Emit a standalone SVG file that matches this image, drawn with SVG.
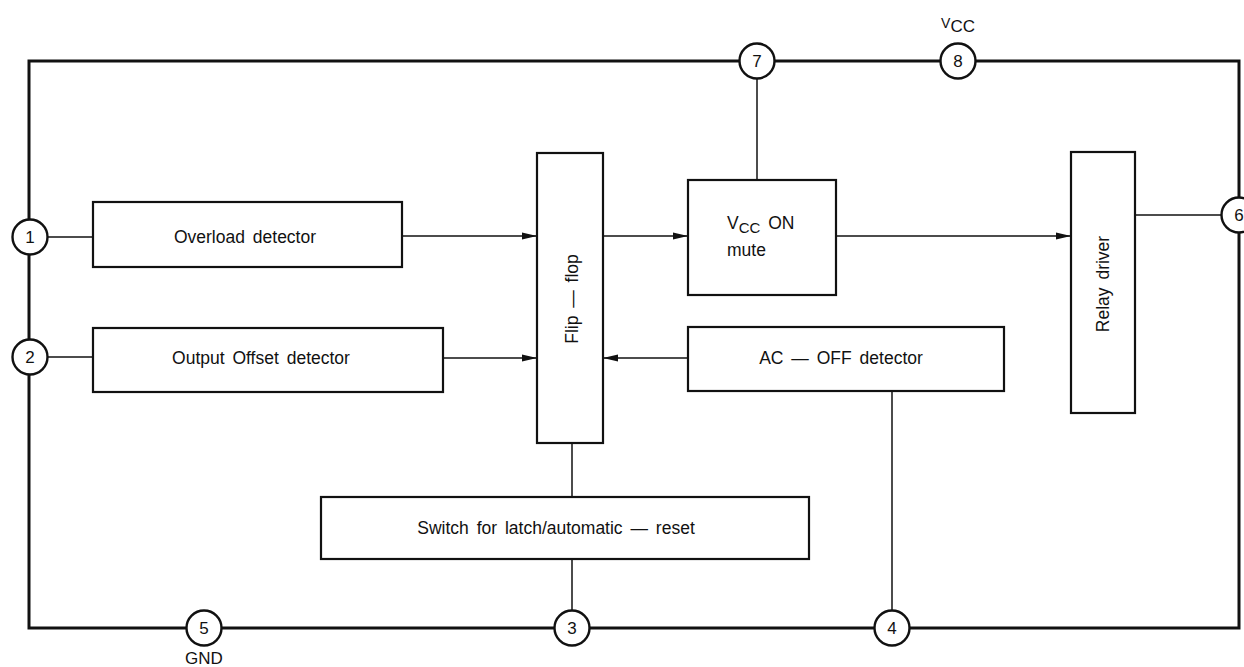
<svg xmlns="http://www.w3.org/2000/svg" width="1244" height="667" viewBox="0 0 1244 667">
<style>
.frame{fill:none;stroke:#111;stroke-width:3}
.box{fill:#fff;stroke:#111;stroke-width:2.2}
.pin{fill:#fff;stroke:#111;stroke-width:2.4}
.w{fill:none;stroke:#111;stroke-width:1.5}
.t{font-family:"Liberation Sans",Arial,sans-serif;font-size:17.5px;fill:#111;word-spacing:3px}
.pn{font-family:"Liberation Sans",Arial,sans-serif;font-size:17px;fill:#111;text-anchor:middle}
</style>
<defs>
<marker id="ah" markerUnits="userSpaceOnUse" markerWidth="16" markerHeight="10" refX="15" refY="5" orient="auto">
<path d="M0,1.5 L15,5 L0,8.5 Z" fill="#111"/>
</marker>
</defs>
<rect x="0" y="0" width="1244" height="667" fill="#fff"/>
<g id="connectors">
<path class="frame" d="M29,61 H1239 V628 H29 Z"/>
<line class="w" x1="48" y1="237" x2="93" y2="237"/>
<line class="w" x1="48" y1="357" x2="93" y2="357"/>
<line class="w" x1="402" y1="236" x2="537" y2="236" marker-end="url(#ah)"/>
<line class="w" x1="443" y1="358" x2="537" y2="358" marker-end="url(#ah)"/>
<line class="w" x1="688" y1="358" x2="603" y2="358" marker-end="url(#ah)"/>
<line class="w" x1="603" y1="236" x2="688" y2="236" marker-end="url(#ah)"/>
<line class="w" x1="836" y1="236" x2="1071" y2="236" marker-end="url(#ah)"/>
<line class="w" x1="757" y1="79" x2="757" y2="180"/>
<line class="w" x1="1135" y1="215" x2="1221" y2="215"/>
<line class="w" x1="572" y1="443" x2="572" y2="497"/>
<line class="w" x1="572" y1="559" x2="572" y2="611"/>
<line class="w" x1="892" y1="391" x2="892" y2="611"/>
</g>
<g id="overload">
<rect class="box" x="93" y="202" width="309" height="65"/>
<text class="t" x="245" y="243" text-anchor="middle">Overload detector</text>
</g>
<g id="offset">
<rect class="box" x="93" y="328" width="350" height="64"/>
<text class="t" x="261" y="364" text-anchor="middle">Output Offset detector</text>
</g>
<g id="flipflop">
<rect class="box" x="537" y="153" width="66" height="290"/>
<text class="t" transform="translate(578,299) rotate(-90)" text-anchor="middle">Flip — flop</text>
</g>
<g id="mute">
<rect class="box" x="688" y="180" width="148" height="115"/>
<text class="t" x="727" y="229">V<tspan font-size="15" dy="4">CC</tspan><tspan dy="-4"> ON</tspan></text>
<text class="t" x="727" y="256">mute</text>
</g>
<g id="acoff">
<rect class="box" x="688" y="327" width="316" height="64"/>
<text class="t" x="841" y="364" text-anchor="middle">AC — OFF detector</text>
</g>
<g id="relay">
<rect class="box" x="1071" y="152" width="64" height="261"/>
<text class="t" transform="translate(1109,284) rotate(-90)" text-anchor="middle">Relay driver</text>
</g>
<g id="switch">
<rect class="box" x="321" y="497" width="488" height="62"/>
<text class="t" x="556" y="534" text-anchor="middle">Switch for latch/automatic — reset</text>
</g>
<g id="pin1"><circle class="pin" cx="30" cy="237" r="17.5"/><text class="pn" x="30" y="243">1</text></g>
<g id="pin2"><circle class="pin" cx="30" cy="357" r="17.5"/><text class="pn" x="30" y="363">2</text></g>
<g id="pin3"><circle class="pin" cx="572" cy="628" r="17.5"/><text class="pn" x="572" y="634">3</text></g>
<g id="pin4"><circle class="pin" cx="892" cy="628" r="17.5"/><text class="pn" x="892" y="634">4</text></g>
<g id="pin5"><circle class="pin" cx="204" cy="628" r="17.5"/><text class="pn" x="204" y="634">5</text>
<text class="pn" x="204" y="664" font-size="15">GND</text></g>
<g id="pin6"><circle class="pin" cx="1239" cy="215" r="17.5"/><text class="pn" x="1239" y="221">6</text></g>
<g id="pin7"><circle class="pin" cx="757" cy="61" r="17.5"/><text class="pn" x="757" y="67">7</text></g>
<g id="pin8"><circle class="pin" cx="958" cy="61" r="17.5"/><text class="pn" x="958" y="67">8</text>
<text class="pn" x="958" y="28" font-size="16"><tspan font-size="14">V</tspan><tspan dy="4">CC</tspan></text></g>
</svg>
